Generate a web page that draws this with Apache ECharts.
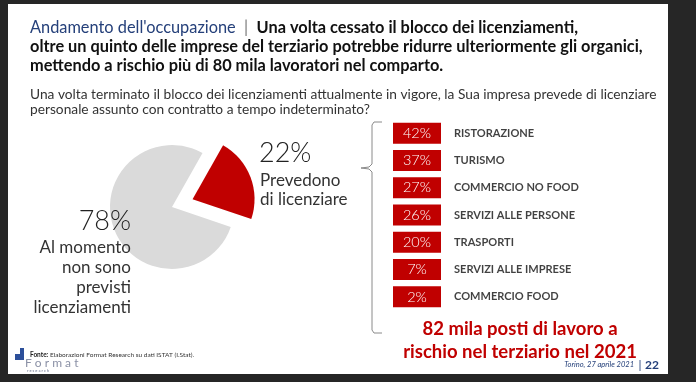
<!DOCTYPE html>
<html><head><meta charset="utf-8">
<script src="https://cdn.jsdelivr.net/npm/echarts@6/dist/echarts.min.js"></script>
<style>html,body{margin:0;padding:0;background:#262626;}#c{width:696px;height:382px;}</style>
</head><body><div id="c"></div>
<script>
// ---- data ----
const pieNames = ['Prevedono\ndi licenziare', 'Al momento\nnon sono\nprevisti\nlicenziamenti'];
const pieValues = [22, 78];
const sectors = ['RISTORAZIONE','TURISMO','COMMERCIO NO FOOD','SERVIZI ALLE PERSONE','TRASPORTI','SERVIZI ALLE IMPRESE','COMMERCIO FOOD'];
const sectorValues = [42, 37, 27, 26, 20, 7, 2];
const titleHead = "Andamento dell'occupazione";
const titleLines = ['Una volta cessato il blocco dei licenziamenti,',
  'oltre un quinto delle imprese del terziario potrebbe ridurre ulteriormente gli organici,',
  'mettendo a rischio più di 80 mila lavoratori nel comparto.'];
const subtitleLines = ['Una volta terminato il blocco dei licenziamenti attualmente in vigore, la Sua impresa prevede di licenziare',
  'personale assunto con contratto a tempo indeterminato?'];
const highlightLines = ['82 mila posti di lavoro a', 'rischio nel terziario nel 2021'];
const sourceLabel = 'Fonte:';
const sourceText = ' Elaborazioni Format Research su dati ISTAT (I.Stat).';
const footerRight = 'Torino, 27 aprile 2021';
const pageNum = '22';

// ---- helpers ----
const FAM = 'Lato, "Noto Sans", sans-serif';
const ctx = document.createElement('canvas').getContext('2d');
function fit(text, weight, target, style) {
  ctx.font = (style || 'normal') + ' ' + weight + ' 100px ' + FAM;
  return 100 * target / ctx.measureText(text).width;
}
const titleSize = fit(titleLines[1], 'bold', 613);
const subSize = fit(subtitleLines[0], 'normal', 627);
const redSize = fit(highlightLines[1], 'bold', 234);
const sectorSize = fit(sectors[2], 'bold', 125);

const chart = echarts.init(document.getElementById('c'), null, {renderer: 'canvas'});

const T = (x, y, style) => ({type: 'text', x: x, y: y, z: 100, style: style});

const graphics = [
  {type: 'rect', shape: {x: 8, y: 4, width: 660, height: 370}, style: {fill: '#ffffff'}, z: -10},
  // title
  T(30, 28, {
    text: '{h|' + titleHead + '}{s|  |  }{b|' + titleLines[0] + '}',
    verticalAlign: 'middle',
    rich: {
      h: {fontFamily: FAM, fontSize: titleSize, fontWeight: 'normal', fill: '#25407a'},
      s: {fontFamily: FAM, fontSize: titleSize, fontWeight: 'normal', fill: '#777'},
      b: {fontFamily: FAM, fontSize: titleSize, fontWeight: 'bold', fill: '#111'}
    }}),
  T(30, 47, {text: titleLines[1], font: 'bold ' + titleSize + 'px ' + FAM, fill: '#111', verticalAlign: 'middle'}),
  T(30, 66, {text: titleLines[2], font: 'bold ' + titleSize + 'px ' + FAM, fill: '#111', verticalAlign: 'middle'}),
  // subtitle
  T(30, 95, {text: subtitleLines[0], font: subSize + 'px ' + FAM, fill: '#333', verticalAlign: 'middle'}),
  T(30, 110, {text: subtitleLines[1], font: subSize + 'px ' + FAM, fill: '#333', verticalAlign: 'middle'}),
  // pie labels
  T(259, 153, {text: pieValues[0] + '%', font: '300 27px ' + FAM, fill: '#222', verticalAlign: 'middle'}),
  T(260, 190.5, {text: pieNames[0], font: '17px ' + FAM, fill: '#333', lineHeight: 19, verticalAlign: 'middle'}),
  T(131, 221, {text: pieValues[1] + '%', font: '300 27px ' + FAM, fill: '#222', align: 'right', verticalAlign: 'middle'}),
  T(131, 278, {text: pieNames[1], font: '17px ' + FAM, fill: '#333', lineHeight: 20, align: 'right', verticalAlign: 'middle'}),
  // brace
  {type: 'polyline', z: 100, shape: {points: [[382, 122], [374, 122], [372, 125], [372, 164], [369, 167], [361, 168], [369, 169], [372, 172], [372, 330], [374, 333], [382, 333]]},
    style: {stroke: '#8a8a8a', lineWidth: 1, fill: null}},
  // highlight
  T(520, 329, {text: highlightLines[0], font: 'bold ' + redSize + 'px ' + FAM, fill: '#c00000', align: 'center', verticalAlign: 'middle'}),
  T(520, 352, {text: highlightLines[1], font: 'bold ' + redSize + 'px ' + FAM, fill: '#c00000', align: 'center', verticalAlign: 'middle'}),
  // footer
  {type: 'rect', z: 100, shape: {x: 15, y: 354, width: 5, height: 6}, style: {fill: '#2c4f9a'}},
  {type: 'rect', z: 100, shape: {x: 20, y: 348, width: 4, height: 12}, style: {fill: '#2c4f9a'}},
  T(30, 355, {
    text: '{a|' + sourceLabel + '}{b|' + sourceText + '}', verticalAlign: 'middle',
    rich: {a: {fontFamily: FAM, fontSize: 6.5, fontWeight: 'bold', fill: '#222'}, b: {fontFamily: FAM, fontSize: 6.5, fill: '#333'}}}),
  T(25, 363, {text: 'F o r m a t', font: '12px ' + FAM, fill: '#8b91a6', verticalAlign: 'middle'}),
  T(27, 371, {text: 'r e s e a r c h', font: 'bold 4px ' + FAM, fill: '#8b91a6', verticalAlign: 'middle'}),
  T(634, 365, {text: footerRight, font: 'italic 7.5px ' + FAM, fill: '#25407a', align: 'right', verticalAlign: 'middle'}),
  T(640, 365, {text: '|', font: '12px ' + FAM, fill: '#25407a', align: 'center', verticalAlign: 'middle'}),
  T(645, 365, {text: pageNum, font: 'bold 12px ' + FAM, fill: '#25407a', verticalAlign: 'middle'})
];

const option = {
  backgroundColor: '#262626',
  animation: false,
  graphic: graphics,
  grid: {left: 393, width: 48, top: 119.5, height: 191},
  xAxis: {type: 'value', min: -1, max: 1, show: false},
  yAxis: {type: 'category', data: sectors, inverse: true, show: false},
  series: [
    {
      type: 'pie', center: [172, 207], radius: 62, startAngle: 60.5, clockwise: true,
      selectedMode: 'single', selectedOffset: 22, silent: true, z: 1,
      label: {show: false}, labelLine: {show: false},
      data: [
        {value: pieValues[0], name: pieNames[0], selected: true, itemStyle: {color: '#c00000'}},
        {value: pieValues[1], name: pieNames[1], itemStyle: {color: '#dadada'}}
      ]
    },
    {
      type: 'scatter', symbol: 'rect', symbolSize: [48, 21], silent: true,
      itemStyle: {color: '#c00000', opacity: 1},
      data: sectorValues.map((v, i) => [0, sectors[i], v]),
      label: {show: true, position: 'inside', formatter: p => p.value[2] + '%', color: '#fff', fontFamily: FAM, fontSize: 14.5, fontWeight: 300}
    },
    {
      type: 'scatter', symbol: 'rect', symbolSize: [48, 21], silent: true,
      itemStyle: {color: 'rgba(0,0,0,0)'},
      data: sectors.map(s => [0, s]),
      label: {show: true, position: 'right', distance: 13, formatter: p => p.value[1], color: '#111', fontFamily: FAM, fontSize: sectorSize, fontWeight: 'bold'}
    }
  ]
};
chart.setOption(option);
</script>
</body></html>
